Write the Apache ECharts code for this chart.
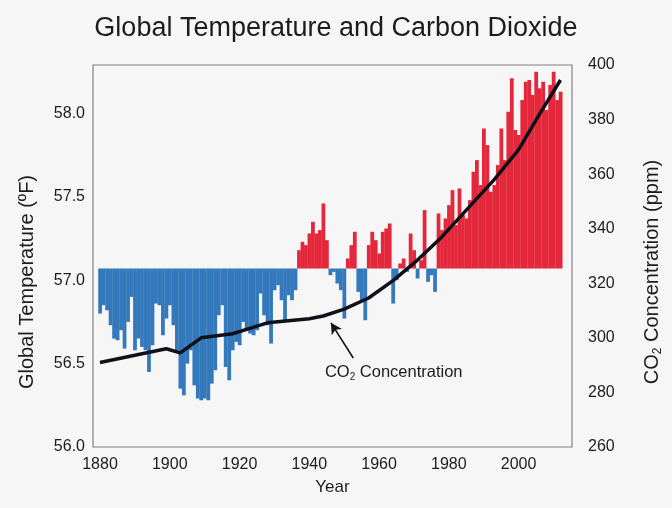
<!DOCTYPE html>
<html>
<head>
<meta charset="utf-8">
<script src="https://cdn.jsdelivr.net/npm/echarts@6/dist/echarts.min.js"></script>
<style>
  html, body { margin: 0; padding: 0; background: #f6f6f6; }
  #chart { width: 672px; height: 508px; }
</style>
</head>
<body>
<div id="chart"></div>
<script>
// ---- data ----
const years = [];
for (let y = 1880; y <= 2012; y++) years.push(y);

const baselineTemp = 57.07; // bar baseline (°F)

const temps = [
  56.80, 56.85, 56.82, 56.73, 56.65, 56.64, 56.70, 56.59, 56.75, 56.90, // 1880-1889
  56.58, 56.65, 56.60, 56.58, 56.45, 56.61, 56.86, 56.85, 56.67, 56.77, // 1890-1899
  56.85, 56.73, 56.57, 56.35, 56.31, 56.50, 56.58, 56.37, 56.29, 56.28, // 1900-1909
  56.29, 56.28, 56.38, 56.46, 56.79, 56.85, 56.48, 56.40, 56.58, 56.63, // 1910-1919
  56.61, 56.75, 56.71, 56.68, 56.67, 56.70, 56.92, 56.79, 56.73, 56.62, // 1920-1929
  56.94, 56.97, 56.88, 56.76, 56.91, 56.88, 56.94, 57.18, 57.23, 57.21, // 1930-1939
  57.28, 57.35, 57.28, 57.30, 57.46, 57.24, 57.03, 57.05, 56.98, 56.94, // 1940-1949
  56.77, 57.13, 57.21, 57.29, 56.93, 56.88, 56.76, 57.21, 57.29, 57.24, // 1950-1959
  57.16, 57.29, 57.31, 57.34, 56.86, 57.00, 57.10, 57.13, 57.05, 57.28, // 1960-1969
  57.18, 57.01, 57.12, 57.42, 56.99, 57.03, 56.93, 57.40, 57.30, 57.37, // 1970-1979
  57.45, 57.54, 57.33, 57.55, 57.39, 57.37, 57.48, 57.65, 57.72, 57.57, // 1980-1989
  57.91, 57.81, 57.53, 57.57, 57.69, 57.91, 57.72, 58.01, 58.21, 57.90, // 1990-1999
  57.87, 58.08, 58.19, 58.20, 58.11, 58.25, 58.15, 58.19, 58.02, 58.17, // 2000-2009
  58.25, 58.08, 58.13                                                  // 2010-2012
];

const co2Years  = [1880, 1890, 1899, 1903, 1909, 1918, 1925, 1928, 1940, 1944, 1950, 1957, 1964, 1971, 1978, 1985, 1993, 2000, 2006, 2012];
const co2Values = [291,  293.6, 296, 294.5, 300, 301.5, 304.3, 305.5, 307, 308, 310.5, 314.6, 321, 328.5, 337, 346.8, 358, 369, 382, 394.5];

const xTickLabels = [1880, 1900, 1920, 1940, 1960, 1980, 2000];
const leftTickLabels = [56.0, 56.5, 57.0, 57.5, 58.0];

// ---- chart ----
const BLUE = '#3479bb';
const RED = '#e4283b';
const FONT = '"Liberation Sans", Arial, sans-serif';
const TXT = '#1c1c1c';

const chart = echarts.init(document.getElementById('chart'), null, { renderer: 'canvas' });

const option = {
  backgroundColor: '#f6f6f6',
  animation: false,
  title: {
    text: 'Global Temperature and Carbon Dioxide',
    left: 'center',
    top: 10,
    textStyle: { fontFamily: FONT, fontSize: 27, fontWeight: 'normal', color: TXT }
  },
  grid: {
    left: 93, right: 100, top: 65, bottom: 61,
    outerBoundsMode: 'none',
    containLabel: false,
    show: true, borderColor: '#808080', borderWidth: 1.2, backgroundColor: 'transparent'
  },
  xAxis: {
    type: 'value',
    min: 1878, max: 2015.3,
    name: 'Year',
    nameLocation: 'middle',
    nameGap: 32,
    nameTextStyle: { fontFamily: FONT, fontSize: 17, color: TXT },
    axisLine: { show: false },
    axisTick: { show: false },
    splitLine: { show: false },
    axisLabel: {
      customValues: xTickLabels,
      formatter: v => String(v),
      fontFamily: FONT, fontSize: 16, color: TXT, margin: 10
    }
  },
  yAxis: [
    {
      type: 'value',
      min: 56.0, max: 58.29,
      position: 'left',
      name: 'Global Temperature (ºF)',
      nameLocation: 'middle',
      nameRotate: 90,
      nameGap: 56,
      nameTextStyle: { fontFamily: FONT, fontSize: 20, color: TXT, padding: [0, 52, 0, 0] },
      axisLine: { show: false },
      axisTick: { show: false },
      splitLine: { show: false },
      axisLabel: {
        customValues: leftTickLabels,
        formatter: v => v.toFixed(1),
        fontFamily: FONT, fontSize: 16, color: TXT, margin: 8
      }
    },
    {
      type: 'value',
      min: 260, max: 400, interval: 20,
      position: 'right',
      name: '{a|CO}{s|2}{a| Concentration (ppm)}',
      nameLocation: 'middle',
      nameRotate: 90,
      nameGap: 68,
      nameTextStyle: {
        fontFamily: FONT, fontSize: 20, color: TXT, padding: [0, 32, 0, 0],
        rich: {
          a: { fontFamily: FONT, fontSize: 20, color: TXT, lineHeight: 24, verticalAlign: 'middle' },
          s: { fontFamily: FONT, fontSize: 12, color: TXT, lineHeight: 24, verticalAlign: 'bottom' }
        }
      },
      axisLine: { show: false },
      axisTick: { show: false },
      splitLine: { show: false },
      axisLabel: { fontFamily: FONT, fontSize: 16, color: TXT, margin: 16 }
    }
  ],
  series: [
    {
      type: 'custom',
      name: 'Temperature',
      xAxisIndex: 0,
      yAxisIndex: 0,
      encode: { x: 0, y: 1 },
      data: years.map((y, i) => [y, temps[i]]),
      renderItem: function (params, api) {
        const yr = api.value(0), v = api.value(1);
        const a = api.coord([yr - 0.5, baselineTemp]);
        const b = api.coord([yr + 0.5, v]);
        return {
          type: 'rect',
          shape: { x: a[0], y: Math.min(a[1], b[1]), width: b[0] - a[0] + 0.3, height: Math.abs(a[1] - b[1]) },
          style: { fill: v >= baselineTemp ? RED : BLUE }
        };
      },
      z: 2
    },
    {
      type: 'line',
      name: 'CO2',
      xAxisIndex: 0,
      yAxisIndex: 1,
      data: co2Years.map((y, i) => [y, co2Values[i]]),
      showSymbol: false,
      symbol: 'none',
      lineStyle: { color: '#101018', width: 3.5 },
      z: 5,
      markLine: {
        silent: true,
        symbol: ['none', 'arrow'],
        symbolSize: [9, 11],
        lineStyle: { color: '#111', width: 1.6, type: 'solid' },
        label: { show: false },
        data: [[{ coord: [1952.6, 292.6] }, { coord: [1946.2, 305.5] }]]
      },
      markPoint: {
        silent: true,
        symbol: 'rect',
        symbolSize: 1,
        itemStyle: { color: 'rgba(0,0,0,0)' },
        label: {
          show: true,
          position: 'inside',
          formatter: '{a|CO}{s|2}{a| Concentration}',
          rich: {
            a: { fontFamily: FONT, fontSize: 16.5, color: TXT, lineHeight: 20, verticalAlign: 'middle' },
            s: { fontFamily: FONT, fontSize: 10, color: TXT, lineHeight: 20, verticalAlign: 'bottom' }
          }
        },
        data: [{ coord: [1964.2, 287.5] }]
      }
    }
  ]
};

chart.setOption(option);
</script>
</body>
</html>
